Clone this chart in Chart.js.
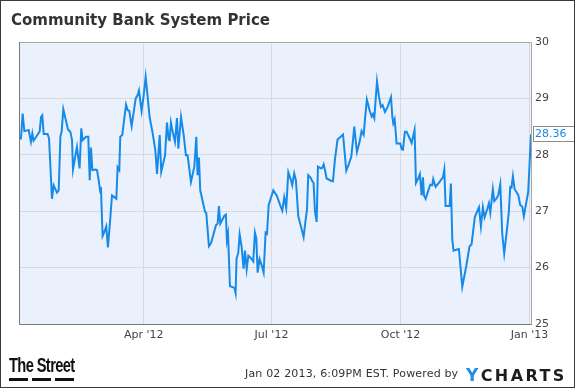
<!DOCTYPE html>
<html>
<head>
<meta charset="utf-8">
<script src="https://cdn.jsdelivr.net/npm/chart.js@4/dist/chart.umd.min.js"></script>
<style>
  html, body { margin: 0; padding: 0; background: #fff; }
  #frame {
    position: relative; width: 575px; height: 388px; box-sizing: border-box;
    border: 1px solid #3a3a3a; overflow: hidden; font-family: 'DejaVu Sans', sans-serif;
  }
  #chartBox { position: absolute; left: -1px; top: -1px; width: 575px; height: 388px; }
  #title { position: absolute; left: 10px; top: 10px; font-size: 15px; font-weight: bold; color: #333; line-height: 18px; }
  #stamp { position: absolute; left: 244px; top: 366px; font-size: 11px; letter-spacing: 0.17px; color: #333; }
  #street { position: absolute; left: 8px; top: 353px; font-family: 'Liberation Sans', sans-serif; font-weight: bold; font-size: 21px; letter-spacing: -0.9px; color: #111; line-height: 21px; transform: scaleX(0.7); transform-origin: left top; white-space: nowrap; }
  .dash { position: absolute; top: 377px; width: 19px; height: 3px; background: #111; }
  #ycharts { position: absolute; left: 465px; top: 365px; font-family: 'DejaVu Sans', sans-serif; font-weight: bold; font-size: 16px; letter-spacing: 2.4px; color: #1d1d1d; line-height: 18px; }
  #ycharts span { color: #1b8fe6; font-size: 17px; }
</style>
</head>
<body>
<div id="frame">
  <div id="chartBox"><canvas id="priceChart"></canvas></div>
  <div id="title">Community Bank System Price</div>
  <div id="street">The Street</div>
  <div class="dash" style="left:8px"></div><div class="dash" style="left:31px"></div><div class="dash" style="left:54px"></div>
  <div id="stamp">Jan 02 2013, 6:09PM EST. Powered by</div>
  <div id="ycharts"><span>Y</span>CHARTS</div>
</div>
<script>
// 日期 = 2012年1月1日起算的天數，價格讀自原圖
const days = [
  2, 3.4, 4.6, 5.8, 8.9, 10.5, 11.5, 12.4, 16.7, 17.7, 18.6, 19.6, 22.4, 23.4, 25.5, 26.7, 29.1, 30.3,
  31.5, 32.4, 33.6, 36.9, 38.6, 39.8, 40.5, 43.3, 45.2, 46.4, 47.4, 49.8, 51.4, 52.4, 53.3, 54.3, 56.6,
  57.6, 58.8, 60.0, 60.4, 61.6, 62.8, 64.2, 65.4, 66.6, 68.3, 69.9, 71.4, 72.3, 73.5, 74.2, 75.6,
  78.3, 79.5, 80.6, 82.3, 85.2, 86.6, 87.5, 89.4, 90.9, 92.3, 93.7, 95.1, 97.3, 99.2, 100.4, 102.3,
  103.4, 106.1, 107.5, 108.7, 109.4, 110.3, 111.8, 113.2, 114.6, 115.6, 117.5, 119.4, 121.0, 122.2,
  124.6, 127.0, 128.4, 129.3, 130.3, 131.2, 134.6, 135.5, 137.4, 138.9, 142.4, 143.6, 144.5, 145.5,
  148.4, 149.5,
  150.2, 151.0, 151.7, 152.4, 154.8, 155.7, 156.4, 157.1, 158.3, 159.3, 160.7, 162.1, 163.1, 164.3,
  165.5, 166.9, 169.0, 170.2, 171.2, 172.1, 173.5, 175.0, 176.4, 177.8, 178.8, 180.0, 181.1, 183.3,
  185.7, 187.3, 188.7, 189.7, 191.1, 192.5, 194.0, 195.9, 196.8, 198.2, 199.4, 201.1, 203.0, 204.9,
  206.3, 207.3, 208.2, 209.7, 211.1, 212.0, 213.0, 214.2, 215.1, 217.3, 218.2, 219.2, 220.1, 221.3,
  224.4, 225.8, 227.2, 229.1, 233.0, 235.3, 237.2, 238.9, 240.1, 241.0, 242.9, 244.8, 246.2, 247.7,
  248.6, 250.0, 251.9, 253.4, 254.3, 255.3, 257.2, 258.6, 260.0, 261.2, 262.9, 264.8, 267.2, 268.1,
  268.8, 269.8, 271.2, 273.8, 274.8, 275.7, 277.1, 278.3, 280.0, 281.9, 284.0, 285.0, 286.6, 287.8,
  289.0, 290.0, 290.7, 291.9, 293.8, 295.2, 296.6, 297.3,
  299.0, 301.8, 304.2, 305.2, 306.1, 309.0, 309.9, 310.9, 311.8, 314.2, 315.6, 318.0, 320.8, 323.2,
  324.6, 327.0, 329.9, 331.3, 332.7, 333.9, 335.6, 337.0, 338.0, 339.8, 340.8, 342.2, 343.6, 345.1,
  346.5, 347.9, 349.8, 351.2, 352.2, 353.1, 354.1, 355.3, 357.9, 359.3, 360.8, 361.9, 363.6, 365.0,
  366.0, 367
];
const prices = [
  28.29, 28.29, 28.73, 28.42, 28.44, 28.23, 28.38, 28.25, 28.41, 28.67, 28.70, 28.37, 28.37, 28.29, 27.22, 27.46, 27.33, 27.37,
  28.32, 28.41, 28.81, 28.45, 28.41, 28.26, 27.74, 28.14, 27.76, 28.47, 28.26, 28.32, 28.32, 27.55, 28.13, 27.73, 27.74,
  27.73, 27.55, 27.33, 27.43, 26.56, 26.63, 26.73, 26.36, 26.72, 27.28, 27.25, 27.22, 27.78, 27.73, 28.32, 28.35,
  28.89, 28.79, 28.78, 28.51, 29.00, 29.06, 29.14, 28.78, 29.06, 29.38, 29.03, 28.67, 28.38, 28.08, 27.66, 28.35,
  27.70, 27.99, 28.57, 28.27, 28.26, 28.57, 28.38, 28.23, 28.65, 28.11, 28.67, 28.35, 27.99, 27.99,
  27.52, 27.79, 28.32, 27.64, 27.95, 27.37, 26.99, 26.97, 26.38, 26.43, 26.75, 26.78, 27.09, 26.78,
  26.92, 26.94,
  26.49, 26.60, 26.60, 25.67, 25.65, 25.63, 25.55, 26.16, 26.26, 26.59, 26.37, 25.98, 26.30, 25.97,
  26.21, 26.18, 26.11, 26.62, 26.52, 25.91, 26.15, 26.04, 25.91, 26.62, 26.60, 27.11, 27.20, 27.37,
  27.28, 27.17, 27.07, 27.01, 27.25, 27.06, 27.69, 27.55, 27.46, 27.67, 27.55, 26.91, 26.73, 26.54,
  26.84, 27.03, 27.64, 27.60, 27.53, 27.50, 26.99, 26.81, 27.79, 27.76, 27.77, 27.83, 27.73, 27.58,
  27.54, 27.53, 27.91, 28.27, 28.36, 27.72, 27.84, 27.97, 28.26, 28.50, 28.05, 28.23, 28.42, 28.35,
  28.62, 28.98, 28.79, 28.68, 28.72, 28.65, 29.30, 29.03, 28.85, 28.88, 28.76, 28.85, 29.02, 28.69,
  28.56, 28.63, 28.20, 28.20, 28.10, 28.09, 28.41, 28.41, 28.32, 28.21, 28.44, 27.50, 27.58, 27.66,
  27.28, 27.60, 27.28, 27.22, 27.37, 27.47, 27.46, 27.57,
  27.43, 27.52, 27.60, 27.74, 27.09, 27.09, 27.49, 26.49, 26.30, 26.32, 26.33, 25.66, 26.02, 26.38,
  26.41, 26.90, 27.07, 26.73, 27.07, 26.89, 27.02, 27.14, 26.97, 27.39, 27.18, 27.22, 27.28, 27.48,
  26.60, 26.25, 26.66, 26.99, 27.43, 27.42, 27.62, 27.39, 27.29, 27.11, 27.08, 26.91, 27.15, 27.34,
  27.85, 28.36
];
// X軸刻度（季度首日）
const tickDays = [91, 182, 274, 366];
const tickLabels = ["Apr '12", "Jul '12", "Oct '12", "Jan '13"];
const yTicks = [25, 26, 27, 28, 29, 30];

const points = days.map((d, i) => ({ x: d, y: prices[i] }));

// 繪圖區背景與邊框
const plotFrame = {
  id: 'plotFrame',
  beforeDraw(chart) {
    const { ctx, chartArea: a } = chart;
    ctx.save();
    ctx.fillStyle = '#eaf1fc';
    ctx.fillRect(a.left, a.top, a.right - a.left, a.bottom - a.top);
    ctx.restore();
  },
  afterDatasetsDraw(chart) {
    const { ctx, chartArea: a } = chart;
    ctx.save();
    ctx.lineWidth = 1;
    ctx.strokeStyle = '#a8a8a8';
    ctx.beginPath();
    ctx.moveTo(a.left, a.top + 0.5); ctx.lineTo(a.right + 0.5, a.top + 0.5); ctx.lineTo(a.right + 0.5, a.bottom);
    ctx.stroke();
    ctx.strokeStyle = '#7a7a7a';
    ctx.beginPath();
    ctx.moveTo(a.left + 0.5, a.top); ctx.lineTo(a.left + 0.5, a.bottom + 0.5); ctx.lineTo(a.right + 1, a.bottom + 0.5);
    ctx.stroke();
    ctx.restore();
  }
};

// 最新價格標籤
const lastTag = {
  id: 'lastTag',
  afterDraw(chart) {
    const { ctx, chartArea: a } = chart;
    const last = prices[prices.length - 1];
    const y = Math.round(chart.scales.y.getPixelForValue(last));
    ctx.save();
    ctx.fillStyle = '#fff';
    ctx.strokeStyle = '#8c8c8c';
    ctx.lineWidth = 1;
    ctx.fillRect(a.right + 2, y - 8, 50, 16);
    ctx.strokeRect(a.right + 2.5, y - 7.5, 50, 15);
    ctx.fillStyle = '#1b86e0';
    ctx.font = '11px "DejaVu Sans"';
    ctx.textBaseline = 'middle';
    ctx.fillText(last.toFixed(2), a.right + 4, y + 0.5);
    ctx.restore();
  }
};

new Chart(document.getElementById('priceChart'), {
  type: 'line',
  data: {
    datasets: [{
      data: points,
      borderColor: '#168ae8',
      borderWidth: 2,
      pointRadius: 0,
      tension: 0,
      fill: false
    }]
  },
  options: {
    responsive: true,
    maintainAspectRatio: false,
    animation: false,
    layout: { padding: { top: 42, left: 19, right: 0, bottom: 44 } },
    plugins: { legend: { display: false }, tooltip: { enabled: false } },
    scales: {
      x: {
        type: 'linear',
        min: days[0],
        max: days[days.length - 1],
        afterBuildTicks(scale) { scale.ticks = tickDays.map(v => ({ value: v })); },
        afterFit(scale) { scale.height = 20; },
        grid: { color: '#d6d9de', drawTicks: false },
        border: { display: false },
        ticks: {
          autoSkip: false, maxRotation: 0, padding: 5, color: '#444',
          font: { family: 'DejaVu Sans', size: 11 },
          callback: (v) => tickLabels[tickDays.indexOf(v)]
        }
      },
      y: {
        position: 'right',
        min: 25,
        max: 30,
        afterBuildTicks(scale) { scale.ticks = yTicks.map(v => ({ value: v })); },
        afterFit(scale) { scale.width = 44; },
        grid: { color: '#d6d9de', drawTicks: false },
        border: { display: false },
        ticks: { padding: 4, color: '#444', font: { family: 'DejaVu Sans', size: 11 } }
      }
    }
  },
  plugins: [plotFrame, lastTag]
});
</script>
</body>
</html>
